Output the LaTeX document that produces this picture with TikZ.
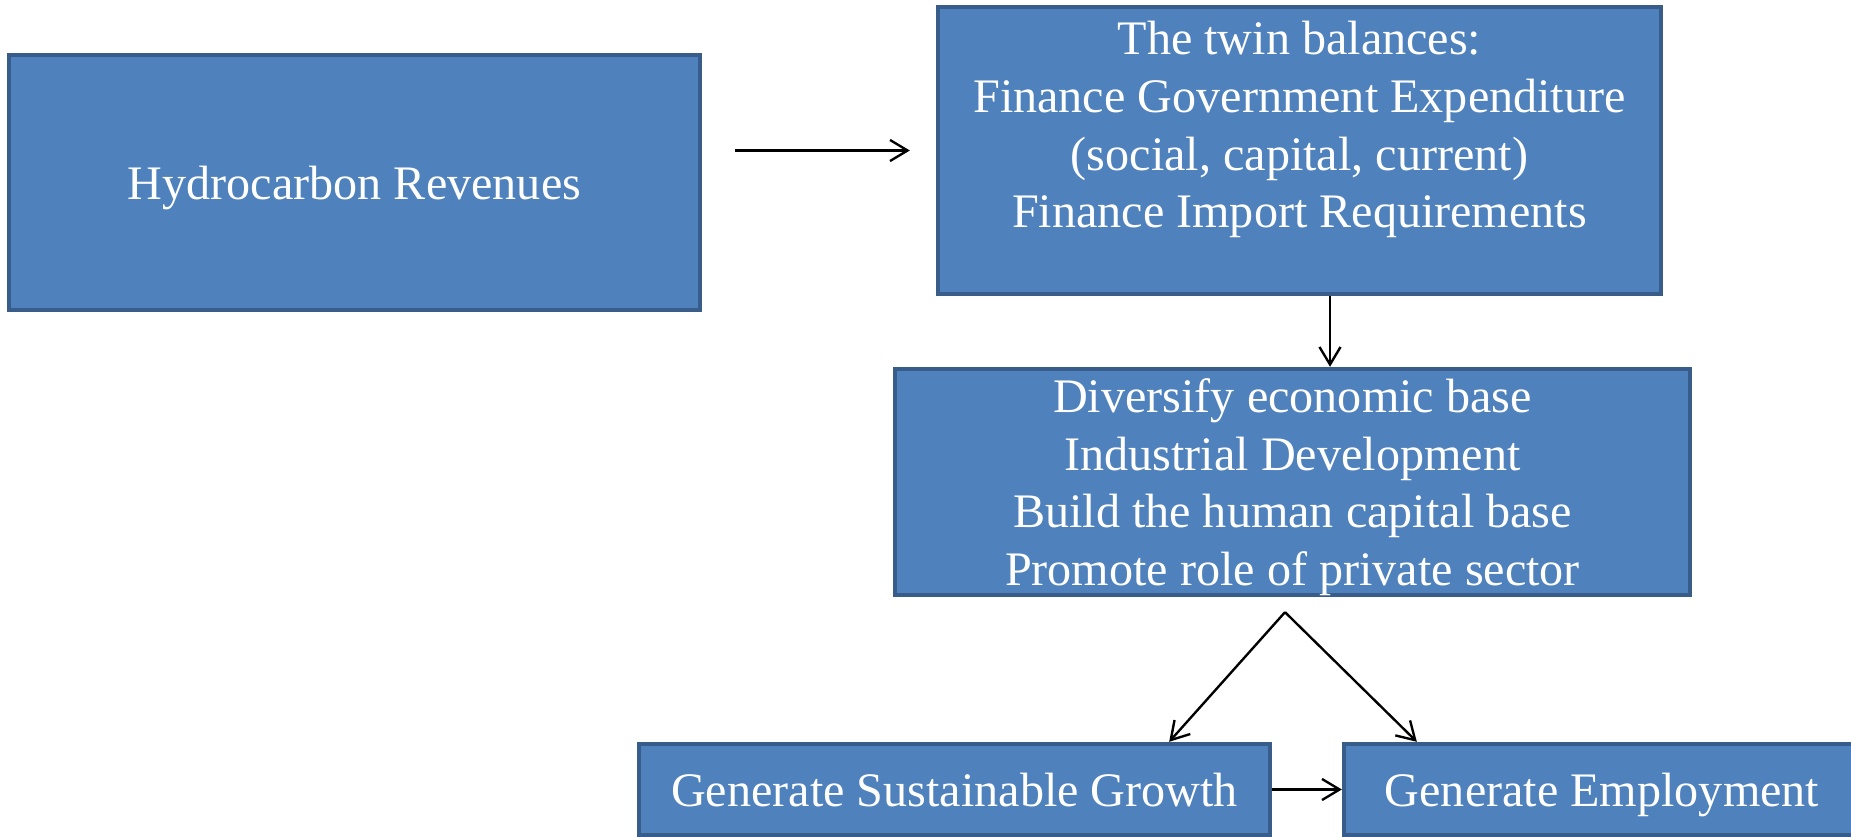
\documentclass[tikz,border=0pt]{standalone}
\usepackage{fontspec}
\setmainfont{Liberation Serif}
\usetikzlibrary{arrows.meta}
\definecolor{boxfill}{HTML}{4F81BD}
\definecolor{boxline}{HTML}{385D8A}
\tikzset{
  boxtext/.style={text=white, align=center, inner sep=0pt, font=\fontsize{27.4}{32.9}\selectfont},
  box/.style={boxtext, text depth=0pt, draw=boxline, fill=boxfill, line width=2.5pt},
  flow/.style={-{Straight Barb[length=10pt,width=12pt]}, line width=1.35pt}
}
\begin{document}
\begin{tikzpicture}[x=0.02cm, y=-0.02cm]
  \clip (0,0) rectangle (1851,837);
  \node[box, minimum width=13.82cm, minimum height=5.1cm] (rev) at (354.5,182.5) {Hydrocarbon Revenues};
  \node[box, minimum width=14.46cm, minimum height=5.74cm] (twin) at (1299.5,150.5) {};
  \node[boxtext, anchor=north] (twintext) at ([yshift=-0.32cm]twin.north)
    {The twin balances:\\Finance Government Expenditure\\(social, capital, current)\\Finance Import Requirements};
  \node[box, minimum width=15.9cm, minimum height=4.52cm] (div) at (1292.5,482)
    {Diversify economic base\\Industrial Development\\Build the human capital base\\Promote role of private sector};
  \node[box, minimum width=12.62cm, minimum height=1.82cm] (grow) at (954.5,789.5) {Generate Sustainable Growth};
  \node[box, minimum width=10.32cm, minimum height=1.82cm] (emp) at (1602,789.5) {Generate Employment};

  \draw[flow, shorten <=0.66cm, shorten >=0.52cm] (rev.east |- twin.west) -- (twin.west);
  \draw[flow] ([xshift=0.61cm]twin.south) -- ([xshift=0.61cm]twin.south |- div.north);
  \coordinate (fork) at ([xshift=-0.15cm, yshift=-0.3cm]div.south);
  \draw[flow] (fork) -- ([xshift=-2.06cm]grow.north east);
  \draw[flow] (fork) -- ([xshift=1.5cm]emp.north west);
  \draw[flow] (grow) -- (emp);
\end{tikzpicture}
\end{document}
